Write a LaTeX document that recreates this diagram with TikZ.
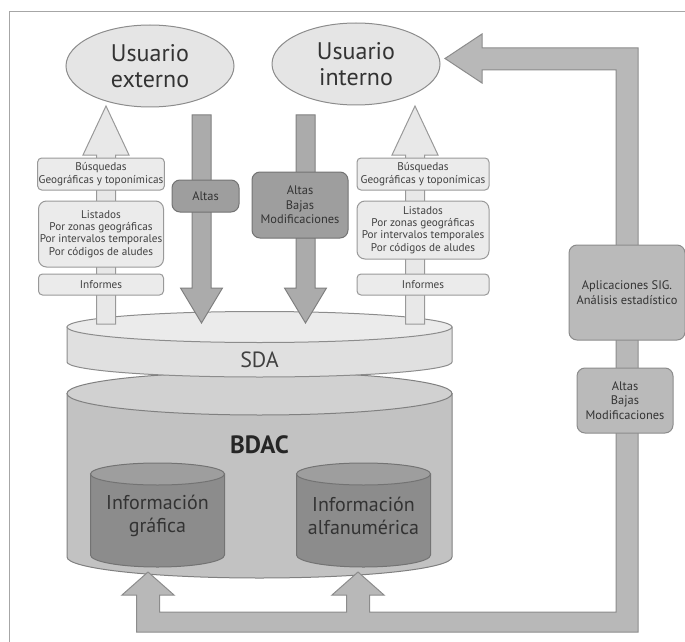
\documentclass[tikz,border=0pt]{standalone}
\usepackage{fontspec}
\setmainfont{PT Sans}
\usetikzlibrary{shapes.geometric,positioning}

\tikzset{
    user/.style={ellipse, draw=black!45, fill=black!10, minimum width=84pt,
        minimum height=41pt, inner sep=0pt, align=center, text=black!80,
        font=\fontsize{12}{13}\selectfont},
    listbox/.style={draw=black!40, fill=black!8, rounded corners=2pt, align=center,
        inner sep=0.5pt, text=black!75, font=\fontsize{5.6}{6.2}\selectfont},
    opbox/.style={draw=black!55, fill=black!38, rounded corners=4pt, align=center,
        inner sep=1pt, text=black!80, font=\fontsize{6.2}{7.2}\selectfont},
    sidebox/.style={opbox, draw=black!45, fill=black!27},
    uparrow/.style={draw=black!40, fill=black!9},
    downarrow/.style={draw=black!50, fill=black!33},
    looparrow/.style={draw=black!45, fill=black!28},
    disk/.style={draw=black!45, fill=black!12},
    disktop/.style={draw=black!45, fill=black!8},
    store/.style={draw=black!50, fill=black!24},
    storetop/.style={draw=black!50, fill=black!18},
    table/.style={draw=black!55, fill=black!45},
    tabletop/.style={draw=black!55, fill=black!38},
}

\begin{document}
\begin{tikzpicture}[x=0.5pt, y=-0.5pt, line width=0.5pt]

    \useasboundingbox (0,0) rectangle (685,642);
    \draw [black!35] (9,642) -- (9,12) -- (685,12);

    \node [user] (ext) at (150,66) {Usuario\\externo};
    \node [user] (int) at (356,64) {Usuario\\interno};

    % BDAC
    \draw [store] (67,393.5) -- (67,557) arc [start angle=180, end angle=360, x radius=96.25pt, y radius=10.5pt] -- (452,393.5) -- cycle;
    \draw [storetop] (259.5,393.5) ellipse [x radius=96.25pt, y radius=10.75pt];
    \node [font=\fontsize{12.5}{13}\selectfont\bfseries, text=black!85] (bdac) at (259.5,445) {BDAC};

    \foreach \x/\name/\txt in {157.5/graf/gráfica, 363.5/alfa/alfanumérica}{
        \draw [table] (\x-67,474) -- (\x-67,555) arc [start angle=180, end angle=360, x radius=33.5pt, y radius=6pt] -- (\x+67,474) -- cycle;
        \draw [tabletop] (\x,474) ellipse [x radius=33.5pt, y radius=5.5pt];
        \node [align=center, text=black!80, font=\fontsize{10}{11.5}\selectfont] (\name) at (\x,516) {Información\\\txt};
    }

    % SDA
    \draw [disk] (67,327) -- (67,362) arc [start angle=180, end angle=360, x radius=96.25pt, y radius=7.5pt] -- (452,327) -- cycle;
    \draw [disktop] (259.5,327) ellipse [x radius=96.25pt, y radius=7.75pt];
    \node [font=\fontsize{11}{12}\selectfont, text=black!75] (sda) at (259.5,360) {SDA};

    % loop back to the internal user
    \draw [looparrow] (148,572) -- (174,595) -- (159.5,595) -- (159.5,612) -- (346.5,612)
        -- (346.5,595) -- (332,595) -- (358,572) -- (384,595) -- (369.5,595) -- (369.5,612)
        -- (616,612) -- (616,70) -- (482,70) -- (482,83) -- (445,58.5) -- (482,34)
        -- (482,48) -- (638,48) -- (638,632) -- (136.5,632) -- (136.5,595) -- (122,595) -- cycle;

    \foreach \x in {106,415}
        \draw [uparrow] (\x-9.5,324) -- (\x-9.5,155) -- (\x-23,155) -- (\x,106)
            -- (\x+23,155) -- (\x+9.5,155) -- (\x+9.5,324) -- cycle;
    \foreach \x in {201.5,305.5}
        \draw [downarrow] (\x-9.5,115) -- (\x-9.5,288) -- (\x-21,288) -- (\x,323)
            -- (\x+21,288) -- (\x+9.5,288) -- (\x+9.5,115) -- cycle;

    \foreach \side/\x/\w/\h in {L/101/62.5pt/33pt, R/423/66pt/29pt}{
        \node [listbox, minimum width=\w, minimum height=16pt] (busq\side) at (\x,174)
            {Búsquedas\\Geográficas y toponímicas};
        \node [listbox, rounded corners=4pt, minimum width=\w, minimum height=\h,
            below=5pt of busq\side] (list\side)
            {Listados\\Por zonas geográficas\\Por intervalos temporales\\Por códigos de aludes};
        \node [listbox, minimum width=\w, minimum height=10.5pt] (inf\side) at (\x,284.5) {Informes};
    }

    \node [opbox, minimum width=33.5pt, minimum height=16pt] (altas) at (205.5,196) {Altas};
    \node [opbox, minimum width=48pt, minimum height=33pt] (abm) at (300,205) {Altas\\Bajas\\Modificaciones};
    \node [sidebox, minimum width=58pt, minimum height=47.5pt] (sig) at (627,292.5) {Aplicaciones SIG.\\Análisis estadístico};
    \node [sidebox, minimum width=48pt, minimum height=32.5pt] (abmR) at (625,400.5) {Altas\\Bajas\\Modificaciones};

\end{tikzpicture}
\end{document}
